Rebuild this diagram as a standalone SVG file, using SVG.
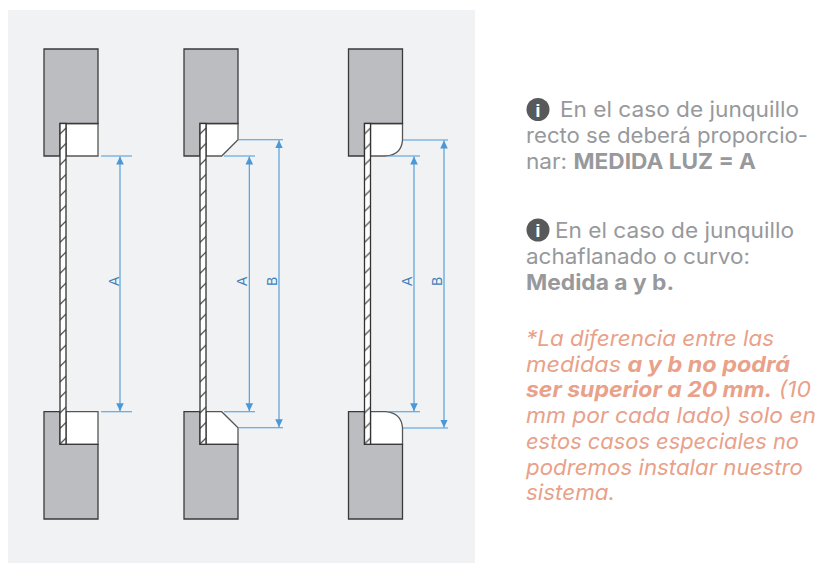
<svg xmlns="http://www.w3.org/2000/svg" width="835" height="563" viewBox="0 0 835 563">
<style>
.wall{fill:#bcbdc0;stroke:#3a3a3c;stroke-width:1.3}
.bead{fill:#fff;stroke:#555;stroke-width:1.3}
.glass{stroke:#333;stroke-width:1.3}
.dim{stroke:#4a98d8;stroke-width:1.1;fill:none}
.dl{font:14px "Liberation Sans",sans-serif;fill:#3f7fb8}
.t{font-family:Inter,"Open Sans",sans-serif;font-size:21.5px;fill:#97999c}
.b{font-weight:700}
.o{font-family:Inter,"Open Sans",sans-serif;font-size:21.5px;font-style:italic;fill:#e9a189}
.i{font:700 19px "Liberation Sans",sans-serif;fill:#fff;text-anchor:middle}
</style>
<defs>
<marker id="a" viewBox="0 0 8 12" refX="8" refY="6" markerWidth="8" markerHeight="12" markerUnits="userSpaceOnUse" orient="auto-start-reverse"><path d="M0 2.2L8 6L0 9.8Z" fill="#4a98d8"/></marker>
<pattern id="h" width="6" height="15.5" patternUnits="userSpaceOnUse" y="123"><rect width="6" height="15.5" fill="#fff"/><path d="M0 11L6 5" stroke="#333" stroke-width="1.1"/></pattern>
<g id="walls">
<path class="wall" d="M44 49H98V123.5H60V156H44Z"/>
<path class="wall" d="M44 411.7H60V444.3H98V519H44Z"/>
</g>
<g id="glass"><rect class="glass" x="60" y="123.5" width="6" height="320.8" fill="url(#h)"/></g>
</defs>
<rect width="835" height="563" fill="#fff"/>
<rect x="8" y="10" width="467" height="553" fill="#f0f2f4"/>
<g id="detail-recto">
<path class="bead" d="M66 123.5H98V156H66Z"/><path class="bead" d="M66 444.3H98V411.7H66Z"/>
<use href="#walls"/><use href="#glass"/>
</g>
<g id="detail-chaflan" transform="translate(140 0)">
<path class="bead" d="M66 123.5H98V139.7L81.7 156H66Z"/><path class="bead" d="M66 444.3H98V427.7L81.7 411.7H66Z"/>
<use href="#walls"/><use href="#glass"/>
</g>
<g id="detail-curvo" transform="translate(304.5 0)">
<path class="bead" d="M66 123.5H98V140Q97 155 81 156H66Z"/><path class="bead" d="M66 444.3H98V428Q97 413 81 411.7H66Z"/>
<use href="#walls"/><use href="#glass"/>
</g>
<g id="connectors">
<path class="dim" d="M101 156H132M101 411.7H132"/><path class="dim" marker-start="url(#a)" marker-end="url(#a)" d="M120 156.5V411.2"/>
<path class="dim" d="M224 156H255M224 411.7H255M238 139.7H283M238 427.7H283"/>
<path class="dim" marker-start="url(#a)" marker-end="url(#a)" d="M249.3 156.5V411.2"/>
<path class="dim" marker-start="url(#a)" marker-end="url(#a)" d="M279 140.2V427.2"/>
<path class="dim" d="M388 156H420M388 411.7H420M403 140H448M403 428H448"/>
<path class="dim" marker-start="url(#a)" marker-end="url(#a)" d="M414 156.5V411.2"/>
<path class="dim" marker-start="url(#a)" marker-end="url(#a)" d="M444 140.5V427.5"/>
</g>
<g id="dim-labels">
<text class="dl" transform="translate(119 286) rotate(-90)">A</text>
<text class="dl" transform="translate(247 286) rotate(-90)">A</text>
<text class="dl" transform="translate(277 286) rotate(-90)">B</text>
<text class="dl" transform="translate(412 286) rotate(-90)">A</text>
<text class="dl" transform="translate(442 286) rotate(-90)">B</text>
</g>
<g id="note-1">
<circle cx="538" cy="109.5" r="11.5" fill="#58595b"/><text class="i" x="538" y="116.5">i</text>
<text class="t" x="560" y="117" textLength="239" lengthAdjust="spacingAndGlyphs">En el caso de junquillo</text>
<text class="t" x="526" y="143" textLength="282" lengthAdjust="spacingAndGlyphs">recto se deberá proporcio-</text>
<text class="t" x="526" y="169" textLength="230" lengthAdjust="spacingAndGlyphs">nar: <tspan class="b">MEDIDA LUZ = A</tspan></text>
</g>
<g id="note-2">
<circle cx="538" cy="230" r="11.5" fill="#58595b"/><text class="i" x="538" y="237">i</text>
<text class="t" x="555" y="238" textLength="239" lengthAdjust="spacingAndGlyphs">En el caso de junquillo</text>
<text class="t" x="526" y="264" textLength="224" lengthAdjust="spacingAndGlyphs">achaflanado o curvo:</text>
<text class="t b" x="526" y="290" textLength="148" lengthAdjust="spacingAndGlyphs">Medida a y b.</text>
</g>
<g id="note-3">
<text class="o" x="526" y="346" textLength="248" lengthAdjust="spacingAndGlyphs">*La diferencia entre las</text>
<text class="o" x="526" y="372" textLength="264" lengthAdjust="spacingAndGlyphs">medidas <tspan class="b">a y b no podrá</tspan></text>
<text class="o b" x="526" y="397" textLength="285" lengthAdjust="spacingAndGlyphs">ser superior a 20 mm.<tspan font-weight="400"> (10</tspan></text>
<text class="o" x="526" y="423" textLength="290" lengthAdjust="spacingAndGlyphs">mm por cada lado) solo en</text>
<text class="o" x="526" y="449" textLength="273" lengthAdjust="spacingAndGlyphs">estos casos especiales no</text>
<text class="o" x="526" y="475" textLength="277" lengthAdjust="spacingAndGlyphs">podremos instalar nuestro</text>
<text class="o" x="526" y="500" textLength="89" lengthAdjust="spacingAndGlyphs">sistema.</text>
</g>
</svg>
